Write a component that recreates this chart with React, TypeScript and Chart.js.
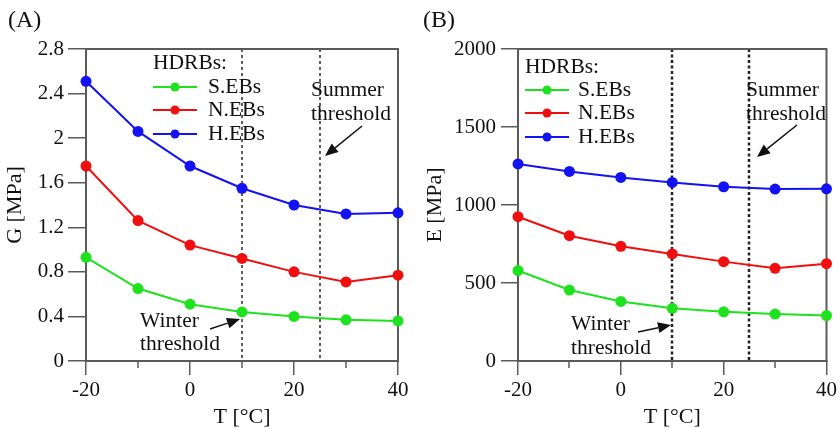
import React, { useEffect, useRef } from 'react';
import { Chart, registerables } from 'chart.js';

Chart.register(...registerables);

// ---------- data ----------
const temps = [-20, -10, 0, 10, 20, 30, 40];
const seriesNames = ['S.EBs', 'N.EBs', 'H.EBs'];
const seriesColors = ['#1ee21e', '#f00e0e', '#1212f2'];

const gSEBs = [0.93, 0.65, 0.51, 0.44, 0.40, 0.37, 0.36];
const gNEBs = [1.75, 1.26, 1.04, 0.92, 0.80, 0.71, 0.77];
const gHEBs = [2.51, 2.06, 1.75, 1.55, 1.40, 1.32, 1.33];

const eSEBs = [580, 455, 382, 338, 315, 301, 291];
const eNEBs = [925, 803, 735, 686, 637, 594, 624];
const eHEBs = [1263, 1215, 1177, 1145, 1117, 1102, 1104];

const xTicksMajor = [-20, 0, 20, 40];
const xTicksMinor = [-10, 10, 30];
const xTickLabels = ['-20', '0', '20', '40'];
const gTicks = [0, 0.4, 0.8, 1.2, 1.6, 2, 2.4, 2.8];
const gTickLabels = ['0', '0.4', '0.8', '1.2', '1.6', '2', '2.4', '2.8'];
const eTicks = [0, 500, 1000, 1500, 2000];
const eTickLabels = ['0', '500', '1000', '1500', '2000'];
const thresholds = [10, 25];
const legendTitle = 'HDRBs:';
const summerText = ['Summer', 'threshold'];
const winterText = ['Winter', 'threshold'];

// ---------- layout ----------
const W = 420;
const H = 428;
const FONT = "'Liberation Serif', 'Times New Roman', serif";
const TEXT = '#111';
const AXIS = '#5a5a5a';

type Panel = {
  label: string;
  yTitle: string;
  yMax: number;
  yTicks: number[];
  yTickLabels: string[];
  values: number[][];
  offset: number;
  area: { left: number; right: number; top: number; bottom: number };
  yTickLen: number;
  yTickPad: number;
  legend: { x: number; lineW: number; textX: number; titleY: number; rows: number[] };
  summer: { x: number; ys: number[]; arrow: number[] };
  winter: { x: number; ys: number[]; arrow: number[] };
  thresh: { color: string; width: number; dash: number[] };
};

const panels: Panel[] = [
  {
    label: '(A)',
    yTitle: 'G [MPa]',
    yMax: 2.8,
    yTicks: gTicks,
    yTickLabels: gTickLabels,
    values: [gSEBs, gNEBs, gHEBs],
    offset: 0,
    area: { left: 86, right: 398, top: 49, bottom: 361 },
    yTickLen: 18,
    yTickPad: 4,
    legend: { x: 153, lineW: 44, textX: 208, titleY: 63, rows: [87, 110, 134] },
    summer: { x: 311, ys: [90, 114], arrow: [362, 126, 325, 156] },
    winter: { x: 140, ys: [321, 344], arrow: [210, 329, 240, 319] },
    thresh: { color: '#5e5e5e', width: 2, dash: [3, 3] },
  },
  {
    label: '(B)',
    yTitle: 'E [MPa]',
    yMax: 2000,
    yTicks: eTicks,
    yTickLabels: eTickLabels,
    values: [eSEBs, eNEBs, eHEBs],
    offset: 420,
    area: { left: 98, right: 410, top: 49, bottom: 361 },
    yTickLen: 17,
    yTickPad: 5,
    legend: { x: 105, lineW: 44, textX: 158, titleY: 67, rows: [90, 113, 137] },
    summer: { x: 326, ys: [90, 114], arrow: [377, 125, 337, 157] },
    winter: { x: 151, ys: [324, 348], arrow: [218, 332, 251, 325] },
    thresh: { color: '#222', width: 2.5, dash: [3, 2.5] },
  },
];

function drawArrow(ctx: CanvasRenderingContext2D, a: number[]) {
  const [x1, y1, x2, y2] = a;
  const ang = Math.atan2(y2 - y1, x2 - x1);
  const len = 13;
  const hw = 5.5;
  const bx = x2 - len * Math.cos(ang);
  const by = y2 - len * Math.sin(ang);
  ctx.save();
  ctx.strokeStyle = TEXT;
  ctx.fillStyle = TEXT;
  ctx.lineWidth = 1.5;
  ctx.beginPath();
  ctx.moveTo(x1, y1);
  ctx.lineTo(bx, by);
  ctx.stroke();
  ctx.beginPath();
  ctx.moveTo(x2, y2);
  ctx.lineTo(bx + hw * Math.sin(ang), by - hw * Math.cos(ang));
  ctx.lineTo(bx - hw * Math.sin(ang), by + hw * Math.cos(ang));
  ctx.closePath();
  ctx.fill();
  ctx.restore();
}

function decorPlugin(p: Panel) {
  return {
    id: 'decor' + p.label,
    beforeDatasetsDraw(chart: any) {
      const ctx: CanvasRenderingContext2D = chart.ctx;
      const { left, right, top, bottom } = chart.chartArea;
      const xs = chart.scales.x;
      ctx.save();
      // threshold lines
      ctx.strokeStyle = p.thresh.color;
      ctx.lineWidth = p.thresh.width;
      ctx.setLineDash(p.thresh.dash);
      thresholds.forEach((t) => {
        const px = Math.round(xs.getPixelForValue(t));
        ctx.beginPath();
        ctx.moveTo(px, top);
        ctx.lineTo(px, bottom);
        ctx.stroke();
      });
      ctx.setLineDash([]);
      // frame
      ctx.strokeStyle = AXIS;
      ctx.lineWidth = 2;
      ctx.strokeRect(left, top, right - left, bottom - top);
      // minor x ticks
      ctx.lineWidth = 1.5;
      xTicksMinor.forEach((t) => {
        const px = Math.round(xs.getPixelForValue(t));
        ctx.beginPath();
        ctx.moveTo(px, bottom);
        ctx.lineTo(px, bottom + 7);
        ctx.stroke();
      });
      ctx.restore();
    },
    afterDraw(chart: any) {
      const ctx: CanvasRenderingContext2D = chart.ctx;
      ctx.save();
      ctx.fillStyle = TEXT;
      ctx.textBaseline = 'middle';
      ctx.textAlign = 'left';
      // panel label
      ctx.font = `24px ${FONT}`;
      ctx.fillText(p.label, p.offset === 0 ? 8 : 3, 21);
      // legend
      ctx.font = `21.5px ${FONT}`;
      ctx.fillText(legendTitle, p.legend.x, p.legend.titleY);
      chart.data.datasets.forEach((ds: any, i: number) => {
        const y = p.legend.rows[i];
        ctx.strokeStyle = ds.borderColor;
        ctx.lineWidth = 2;
        ctx.beginPath();
        ctx.moveTo(p.legend.x, y);
        ctx.lineTo(p.legend.x + p.legend.lineW, y);
        ctx.stroke();
        ctx.fillStyle = ds.borderColor;
        ctx.beginPath();
        ctx.arc(p.legend.x + p.legend.lineW / 2, y, 4.5, 0, Math.PI * 2);
        ctx.fill();
        ctx.fillStyle = TEXT;
        ctx.fillText(ds.label, p.legend.textX, y);
      });
      // annotations
      summerText.forEach((s, i) => ctx.fillText(s, p.summer.x, p.summer.ys[i]));
      winterText.forEach((s, i) => ctx.fillText(s, p.winter.x, p.winter.ys[i]));
      ctx.restore();
      drawArrow(ctx, p.summer.arrow);
      drawArrow(ctx, p.winter.arrow);
    },
  };
}

function makeConfig(p: Panel): any {
  const tickFont = { family: FONT, size: 21 };
  return {
    type: 'line',
    data: {
      datasets: seriesNames.map((name, i) => ({
        label: name,
        data: temps.map((t, j) => ({ x: t, y: p.values[i][j] })),
        borderColor: seriesColors[i],
        backgroundColor: seriesColors[i],
        pointBackgroundColor: seriesColors[i],
        pointBorderColor: seriesColors[i],
        pointBorderWidth: 0,
        pointRadius: 5.5,
        borderWidth: 2,
        tension: 0,
        clip: false,
      })),
    },
    options: {
      responsive: false,
      animation: false,
      devicePixelRatio: 1,
      events: [],
      layout: { padding: { left: 0, top: p.area.top, right: W - p.area.right, bottom: 0 } },
      plugins: { legend: { display: false }, tooltip: { enabled: false }, title: { display: false } },
      scales: {
        x: {
          type: 'linear',
          min: -20,
          max: 40,
          afterBuildTicks: (s: any) => {
            s.ticks = xTicksMajor.map((v) => ({ value: v }));
          },
          afterFit: (s: any) => {
            s.height = H - p.area.bottom;
          },
          ticks: {
            font: tickFont,
            color: TEXT,
            padding: 3,
            maxRotation: 0,
            autoSkip: false,
            callback: (v: number) => xTickLabels[xTicksMajor.indexOf(v)] ?? String(v),
          },
          grid: { drawOnChartArea: false, drawTicks: true, tickLength: 14, color: AXIS, lineWidth: 1.5 },
          border: { display: true, color: AXIS, width: 2 },
          title: {
            display: true,
            text: 'T [°C]',
            color: TEXT,
            font: { family: FONT, size: 22, lineHeight: 1 },
            padding: { top: 0, bottom: 0 },
          },
        },
        y: {
          type: 'linear',
          min: 0,
          max: p.yMax,
          afterBuildTicks: (s: any) => {
            s.ticks = p.yTicks.map((v) => ({ value: v }));
          },
          afterFit: (s: any) => {
            s.width = p.area.left;
          },
          ticks: {
            font: tickFont,
            color: TEXT,
            padding: p.yTickPad,
            autoSkip: false,
            callback: (v: number) => {
              const idx = p.yTicks.findIndex((t) => Math.abs(t - v) < 1e-6);
              return idx >= 0 ? p.yTickLabels[idx] : String(v);
            },
          },
          grid: { drawOnChartArea: false, drawTicks: true, tickLength: p.yTickLen, color: AXIS, lineWidth: 1.5 },
          border: { display: true, color: AXIS, width: 2 },
          title: {
            display: true,
            text: p.yTitle,
            color: TEXT,
            font: { family: FONT, size: 22, lineHeight: 1.2 },
            padding: { top: 2, bottom: 0 },
          },
        },
      },
    },
    plugins: [decorPlugin(p)],
  };
}

function PanelChart({ p }: { p: Panel }) {
  const ref = useRef<HTMLCanvasElement>(null);
  useEffect(() => {
    if (!ref.current) return;
    const chart = new Chart(ref.current, makeConfig(p));
    return () => chart.destroy();
  }, [p]);
  return (
    <canvas
      ref={ref}
      width={W}
      height={H}
      style={{ position: 'absolute', left: p.offset, top: 0, width: W, height: H }}
    />
  );
}

export default function App() {
  return (
    <div style={{ position: 'fixed', left: 0, top: 0, width: 840, height: 428, background: '#fff', overflow: 'hidden' }}>
      {panels.map((p) => (
        <PanelChart key={p.label} p={p} />
      ))}
    </div>
  );
}
